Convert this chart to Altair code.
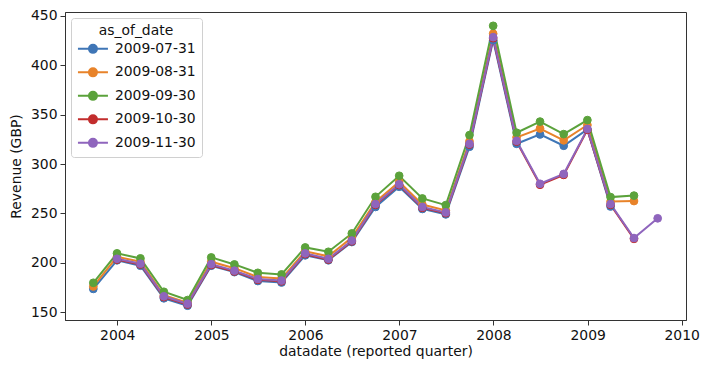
import altair as alt
import pandas as pd

quarters = ["2003-09-30", "2003-12-31", "2004-03-31", "2004-06-30", "2004-09-30",
            "2004-12-31", "2005-03-31", "2005-06-30", "2005-09-30", "2005-12-31",
            "2006-03-31", "2006-06-30", "2006-09-30", "2006-12-31", "2007-03-31",
            "2007-06-30", "2007-09-30", "2007-12-31", "2008-03-31", "2008-06-30",
            "2008-09-30", "2008-12-31", "2009-03-31", "2009-06-30", "2009-09-30"]

as_of_dates = ["2009-07-31", "2009-08-31", "2009-09-30", "2009-10-30", "2009-11-30"]
colors = ["#3f76b6", "#e8832a", "#5ba23b", "#c22d2d", "#8f65bd"]

# revenue by as_of_date (first index into quarters, values)
rev_0731 = [173.5, 202.5, 197.0, 164.0, 156.5, 197.0, 190.5, 181.5, 180.0, 207.5,
            202.5, 221.0, 256.5, 277.0, 254.5, 249.0, 317.5, 425.5, 320.5, 330.0,
            318.5, 335.0, 257.0]
rev_0831 = [176.0, 206.0, 201.0, 167.0, 159.5, 201.0, 194.5, 185.5, 184.0, 211.5,
            206.5, 225.5, 261.5, 282.0, 259.0, 253.0, 323.0, 432.0, 327.0, 336.0,
            324.0, 339.5, 262.0, 262.5]
rev_0930 = [179.7, 209.5, 204.4, 170.6, 162.2, 205.4, 198.3, 189.8, 188.2, 215.5,
            211.1, 229.7, 266.8, 288.1, 265.1, 258.4, 329.3, 440.0, 331.7, 343.0,
            330.3, 344.5, 266.5, 268.0]
rev_1030 = [203.2, 198.2, 165.2, 157.7, 197.7, 191.2, 182.7, 181.2, 208.7, 203.2,
            221.7, 258.7, 278.7, 255.7, 250.2, 319.7, 427.5, 322.7, 279.0, 289.0,
            334.7, 258.7, 224.2]
rev_1130 = [204.0, 199.0, 166.0, 158.5, 198.5, 192.0, 183.5, 182.0, 209.5, 204.0,
            222.5, 259.5, 279.5, 256.5, 251.0, 320.5, 428.5, 323.5, 280.0, 290.0,
            335.5, 259.5, 225.0, 245.0]

series = [(as_of_dates[0], 0, rev_0731), (as_of_dates[1], 0, rev_0831),
          (as_of_dates[2], 0, rev_0930), (as_of_dates[3], 1, rev_1030),
          (as_of_dates[4], 1, rev_1130)]

rows = []
for name, start, vals in series:
    for i, v in enumerate(vals):
        rows.append({"as_of_date": name, "datadate": quarters[start + i], "revenue": v})
df = pd.DataFrame(rows)

FONT = "DejaVu Sans"
FS = 13.9
year_ticks = [alt.DateTime(year=y, month=1, date=1, utc=True) for y in range(2004, 2011)]

x = alt.X("datadate:T",
          scale=alt.Scale(type="utc",
                          domain=[alt.DateTime(year=2003, month=6, date=12, utc=True),
                                  alt.DateTime(year=2010, month=1, date=18, utc=True)]),
          axis=alt.Axis(values=year_ticks, format="%Y", title="datadate (reported quarter)"))
y = alt.Y("revenue:Q", scale=alt.Scale(domain=[142, 454], nice=False, zero=False),
          axis=alt.Axis(values=[150, 200, 250, 300, 350, 400, 450], title="Revenue (GBP)"))

cscale = alt.Scale(domain=as_of_dates, range=colors)
legend_path = ("M-3,0L3,0M-0.8,0A0.8,0.8,0,1,1,0.8,0A0.8,0.8,0,1,1,-0.8,0Z")
leg = alt.Legend(title="as_of_date", orient="top-left", symbolType=legend_path,
                 symbolSize=100)

lines = alt.Chart(df).mark_line(strokeWidth=2).encode(
    x=x, y=y,
    stroke=alt.Stroke("as_of_date:N", scale=cscale, legend=leg),
    detail="as_of_date:N")
points = alt.Chart(df).mark_point(filled=True, size=60, strokeWidth=1, opacity=1).encode(
    x=x, y=y,
    fill=alt.Fill("as_of_date:N", scale=cscale, legend=leg),
    stroke=alt.Stroke("as_of_date:N", scale=cscale, legend=leg))

chart = alt.layer(lines, points).properties(
    width=621, height=308,
    autosize=alt.AutoSizeParams(type="none"),
    padding={"left": 57, "top": 4, "right": 14, "bottom": 44},
).configure_view(
    stroke="#333333", strokeWidth=1
).configure_axis(
    grid=False, domainColor="#333333", domainWidth=1, tickColor="#333333",
    tickSize=5, tickWidth=1, labelFont=FONT, labelFontSize=FS, labelColor="#111111",
    titleFont=FONT, titleFontSize=FS, titleFontWeight="normal", titleColor="#111111",
    labelPadding=3
).configure_axisX(
    titlePadding=3
).configure_axisY(
    titlePadding=7, labelFlush=False
).configure_legend(
    labelFont=FONT, labelFontSize=FS, labelColor="#111111",
    titleFont=FONT, titleFontSize=FS, titleFontWeight="normal", titleColor="#111111",
    titleAnchor="middle", titleAlign="center", titlePadding=4,
    strokeColor="#d0d0d0", fillColor="#ffffff", cornerRadius=3, padding=6,
    offset=6, rowPadding=6.5, symbolStrokeWidth=2, symbolOffset=9, labelOffset=15,
    symbolOpacity=1
)

chart.save("out.html", embed_options={"renderer": "svg", "actions": False})
